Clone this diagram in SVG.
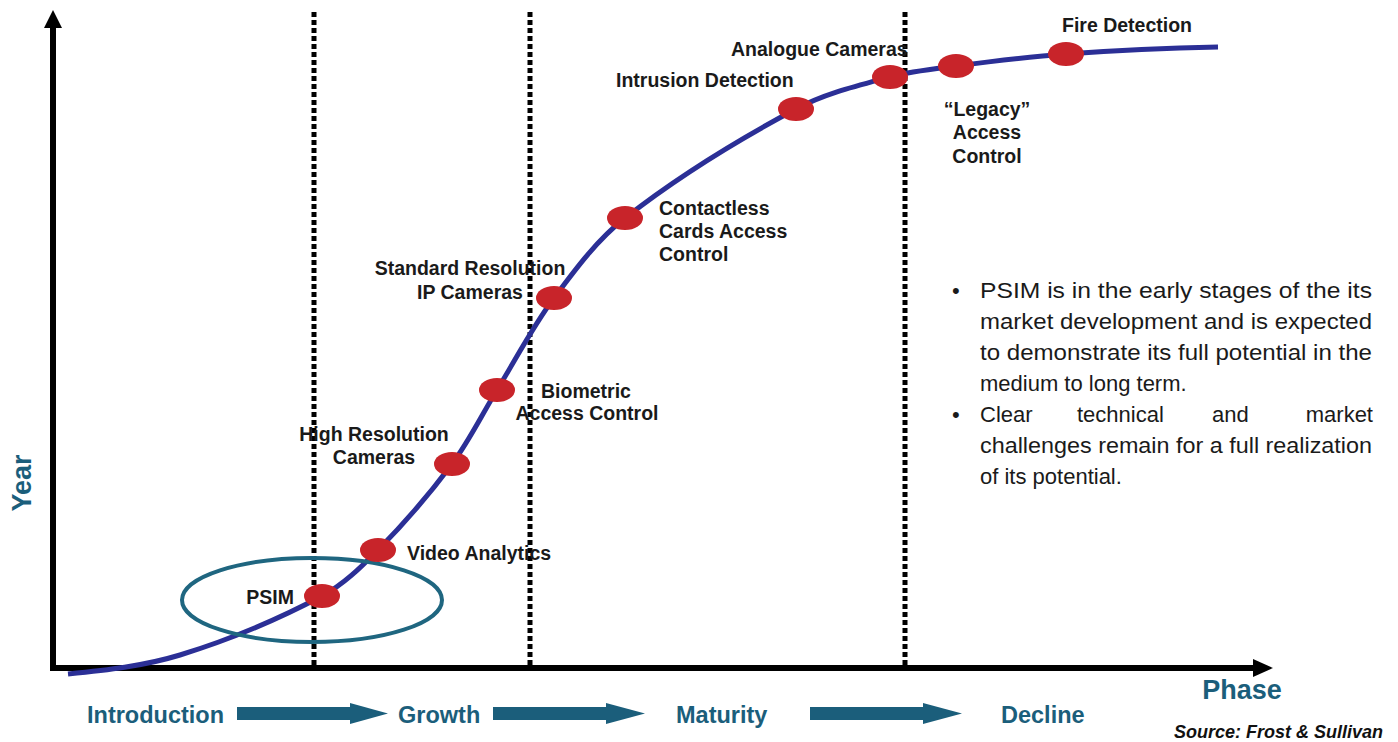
<svg xmlns="http://www.w3.org/2000/svg" width="1398" height="742" viewBox="0 0 1398 742">
<style>
.lbl{font-family:"Liberation Sans",Arial,sans-serif;font-weight:bold;font-size:19.5px;fill:#1a1a1a}
.ph{font-family:"Liberation Sans",Arial,sans-serif;font-weight:bold;font-size:23.5px;fill:#1b5e7b}
.body{font-family:"Liberation Sans",Arial,sans-serif;font-size:22px;fill:#1a1a1a}
.dot{fill:#c8242a}
.vline{stroke:#000;stroke-width:5;stroke-dasharray:5 3;fill:none}
.parrow{fill:#1b5e7b}
</style>
<rect width="1398" height="742" fill="#fff"/>
<g id="axes">
<line x1="53" y1="670" x2="53" y2="26" stroke="#000" stroke-width="6"/>
<polygon points="53,10 44,28 62,28" fill="#000"/>
<line x1="50" y1="668" x2="1254" y2="668" stroke="#000" stroke-width="6"/>
<polygon points="1273,668 1253,659 1253,677" fill="#000"/>
</g>
<g id="phase-dividers">
<line class="vline" x1="314" y1="12" x2="314" y2="666"/>
<line class="vline" x1="530" y1="12" x2="530" y2="666"/>
<line class="vline" x1="905" y1="12" x2="905" y2="666"/>
</g>
<g id="connectors">
<path d="M68,674 C105.7,670.2 143.8,666.1 180,655 C229,639.9 276.7,620.1 322,596 C343.4,584.7 361,567.2 378,550 C404.5,523.1 429.4,494.3 452,464 C469.3,440.8 481.9,414.6 497,390 C515.9,359.2 532.4,327 554,298 C575.3,269.4 596.9,240 625,218 C678.3,176.4 736.3,140.8 796,109 C825.2,93.4 858,85.6 890,77 C911.5,71.2 933.9,68.9 956,66 C992.6,61.2 1029.2,56.7 1066,54 C1116.5,50.3 1167.3,48 1218,47" fill="none" stroke="#2b2f96" stroke-width="5"/>
</g>
<g id="psim-highlight">
<ellipse cx="312" cy="600" rx="130" ry="42" fill="none" stroke="#1f6680" stroke-width="4"/>
</g>
<g id="node-psim"><ellipse class="dot" cx="322" cy="596" rx="18" ry="12"/><text class="lbl" x="294" y="604" text-anchor="end">PSIM</text></g>
<g id="node-video"><ellipse class="dot" cx="378" cy="550" rx="18" ry="12"/><text class="lbl" x="407" y="560">Video Analytics</text></g>
<g id="node-highres"><ellipse class="dot" cx="452" cy="464" rx="18" ry="12"/><text class="lbl" x="374" y="441" text-anchor="middle">High Resolution</text><text class="lbl" x="374" y="464" text-anchor="middle">Cameras</text></g>
<g id="node-biometric"><ellipse class="dot" cx="497" cy="390" rx="18" ry="12"/><text class="lbl" x="586" y="398" text-anchor="middle">Biometric</text><text class="lbl" x="587" y="420" text-anchor="middle">Access Control</text></g>
<g id="node-stdres"><ellipse class="dot" cx="554" cy="298" rx="18" ry="12"/><text class="lbl" x="470" y="275" text-anchor="middle">Standard Resolution</text><text class="lbl" x="470" y="299" text-anchor="middle">IP Cameras</text></g>
<g id="node-contactless"><ellipse class="dot" cx="625" cy="218" rx="18" ry="12"/><text class="lbl" x="659" y="215">Contactless</text><text class="lbl" x="659" y="238">Cards Access</text><text class="lbl" x="659" y="261">Control</text></g>
<g id="node-intrusion"><ellipse class="dot" cx="796" cy="109" rx="18" ry="12"/><text class="lbl" x="616" y="87">Intrusion Detection</text></g>
<g id="node-analogue"><ellipse class="dot" cx="890" cy="77" rx="18" ry="12"/><text class="lbl" x="731" y="56">Analogue Cameras</text></g>
<g id="node-legacy"><ellipse class="dot" cx="956" cy="66" rx="18" ry="12"/><text class="lbl" x="987" y="116" text-anchor="middle">“Legacy”</text><text class="lbl" x="987" y="139" text-anchor="middle">Access</text><text class="lbl" x="987" y="163" text-anchor="middle">Control</text></g>
<g id="node-fire"><ellipse class="dot" cx="1066" cy="54" rx="18" ry="12"/><text class="lbl" x="1062" y="32">Fire Detection</text></g>
<g id="notes">
<text class="body" x="952" y="298">•</text>
<text class="body" x="980" y="298" textLength="392" lengthAdjust="spacingAndGlyphs">PSIM is in the early stages of the its</text>
<text class="body" x="980" y="329" textLength="392" lengthAdjust="spacingAndGlyphs">market development and is expected</text>
<text class="body" x="980" y="360" textLength="392" lengthAdjust="spacingAndGlyphs">to demonstrate its full potential in the</text>
<text class="body" x="980" y="391">medium to long term.</text>
<text class="body" x="952" y="422">•</text>
<text class="body" x="980" y="422">Clear</text>
<text class="body" x="1077" y="422">technical</text>
<text class="body" x="1212" y="422">and</text>
<text class="body" x="1373" y="422" text-anchor="end">market</text>
<text class="body" x="980" y="453" textLength="392" lengthAdjust="spacingAndGlyphs">challenges remain for a full realization</text>
<text class="body" x="980" y="484">of its potential.</text>
</g>
<g id="axis-labels">
<text class="ph" x="31" y="483" text-anchor="middle" transform="rotate(-90 31 483)" style="font-size:27px">Year</text>
<text class="ph" x="1242" y="699" text-anchor="middle" style="font-size:27px">Phase</text>
<text x="1383" y="738" text-anchor="end" font-family="Liberation Sans, Arial, sans-serif" font-weight="bold" font-style="italic" font-size="18" fill="#111">Source: Frost &amp; Sullivan</text>
</g>
<g id="phases">
<text class="ph" x="87" y="723">Introduction</text>
<rect class="parrow" x="237" y="707" width="115" height="13"/><polygon class="parrow" points="350,703 388,713.5 350,724"/>
<text class="ph" x="398" y="723">Growth</text>
<rect class="parrow" x="493" y="707" width="115" height="13"/><polygon class="parrow" points="606,703 645,713.5 606,724"/>
<text class="ph" x="676" y="723">Maturity</text>
<rect class="parrow" x="810" y="707" width="115" height="13"/><polygon class="parrow" points="923,703 962,713.5 923,724"/>
<text class="ph" x="1001" y="723">Decline</text>
</g>
</svg>
